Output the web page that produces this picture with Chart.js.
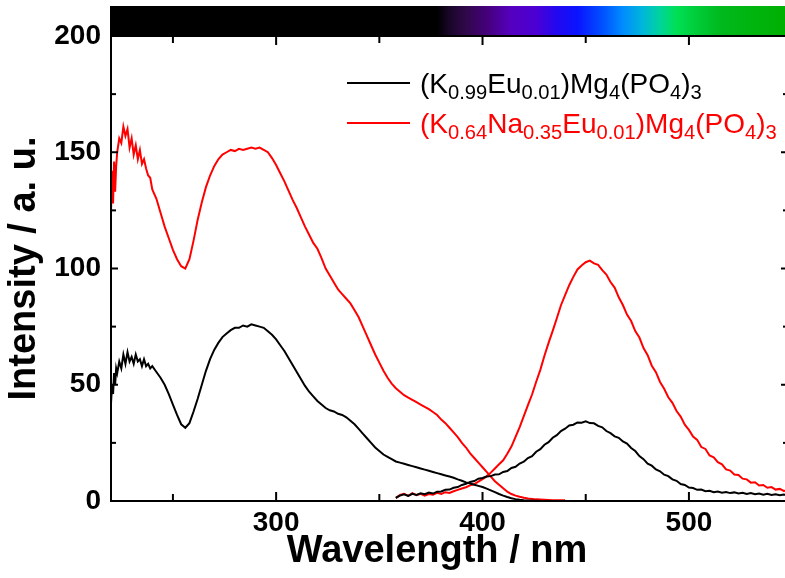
<!DOCTYPE html>
<html>
<head>
<meta charset="utf-8">
<script src="https://cdn.jsdelivr.net/npm/chart.js@4.4.0/dist/chart.umd.min.js"></script>
<style>
  html, body { margin: 0; padding: 0; overflow: hidden; background: #fff; }
  #wrap { width: 800px; height: 578px; }
</style>
</head>
<body>
<div id="wrap"><canvas id="c" width="800" height="578"></canvas></div>
<script>
// Excitation spectra (nm)
const excWavelength = [220,220.5,221,221.5,222,222.5,223,224,225,226,227,228,229,230,231,232,233,234,235,236,237,238,239,240,
  242,244,246,248,250,252,254,256,258,260,262,264,266,268,270,272,274,276,278,280,282,284,286,288,290,292,294,296,298,300,
  302,304,306,308,310,312,314,316,318,320,322,324,326,328,330,332,334,336,338,340,342,344,346,348,350,352,354,356,358,360,
  362,364,366,368,370,372,374,376,378,380,382,384,386,388,390,392,394,396,398,400,402,404,406,408,410,412,414,416,418,420,
  422,424,426,428,430,432,434,436,438,440];

const excK = [42,50,46,55,50,57,55,60,57,63,59,64,60,62,59,63,60,61,58,61,58,59,57,58,
  55.5,53,50,46,41.5,37,33,31.5,33.5,38.5,44,50,56,61,65,68,70.5,72,73.5,74.5,74.5,75.5,75,76,75.5,75,74.5,73,71.5,69.5,
  67,64.5,61.5,58.5,55.5,52.5,49.5,47,45,43,41.5,40,39,38.5,37.5,37,36,34.5,33,31,29,27,25,23,21.5,20,19,18,17,16.5,
  16,15.5,15,14.5,14,13.5,13,12.5,12,11.5,11,10.5,10,9.3,8.7,8,7.5,7,6.5,6,5.3,4.6,3.8,3,2.3,1.7,1.2,0.8,0.5,0.3,
  0.2,0.1,0.1,0,0,0,0,0,0,0];

const excKNa = [124,142,128,146,133,144,150,156,154,161,157,160,152,156,149,153,147,151,145,147,143,140,139,134,
  130,124,118,113,108,104,101,100,104,112,121,128.5,135,140,144,147,149,150,151,150.5,151.5,151,151.5,152,151.5,152,151,150,147.5,144.5,
  141,137.5,133.5,129.5,126,122,118,114.5,111,108.5,104.5,100,97,94,91,89,87,85,82,79,75,71,67,63,59.5,56,53,50.5,48.5,47,
  45.5,44.5,43.5,42.5,41.5,40.5,39.5,38.3,37,35,33.5,31.5,29.5,27.5,25,23,20.5,18.5,16.5,14.5,12.5,10.5,8.5,7,5.5,4,3,2.3,1.8,1.4,
  1.1,0.9,0.7,0.6,0.5,0.4,0.3,0.3,0.3,0.3];

// Emission spectra (nm)
const emWavelength = [358,360,362,364,366,368,370,372,374,376,378,380,382,384,386,388,390,392,394,396,398,400,
  402,404,406,408,410,412,414,416,418,420,422,424,426,428,430,432,434,436,438,440,442,444,446,448,450,
  452,454,456,458,460,462,464,466,468,470,472,474,476,478,480,482,484,486,488,490,492,494,496,498,500,
  502,504,506,508,510,512,514,516,518,520,522,524,526,528,530,532,534,536,538,540,542,544,546,548,550];

const emK = [1.4,2.3,2.9,2.2,3.1,2.6,3.3,2.9,3.6,3.2,4,4.1,4.8,4.9,5.7,6,6.9,7.4,8.2,8.6,9.6,9.9,
  10.5,10.7,11.4,11.5,12.5,12.9,14.2,14.7,16.1,16.9,18.5,19.3,21.2,22.3,24.2,25.3,27.2,28.3,30.1,31.1,32.5,32.8,33.8,33.7,34.3,
  33.5,33.4,32.3,31.7,30.1,29.2,27.8,27.2,25.6,24.7,22.8,21.5,19.3,18,16.1,15.2,13.6,12.8,11.3,10.7,9.3,8.7,7.3,6.9,5.8,
  5.6,4.8,4.9,4.2,4.4,3.8,4.1,3.6,3.9,3.4,3.7,3.2,3.5,3,3.4,2.9,3.2,2.7,3.1,2.6,2.9,2.5,2.8,2.4,2.6];

const emKNa = [1.2,2.6,3.1,2.2,3.4,2.5,3.1,2.3,3,2.7,3.5,3,3.8,3.5,4.2,4.8,5.4,5.9,6.7,7.3,8.3,9.4,
  10.6,12.2,14,15.8,17.5,20.3,23.4,27.6,31.8,36.5,41.2,45.8,51.3,56.4,62.5,68,73.2,78.6,84.2,88.5,92.8,96.4,99.6,101.3,102.7,
  103.4,102.2,101.6,99.3,97.4,94.2,91.8,87.6,84.3,80.2,77.4,73.1,70.3,65.8,62.7,58.2,55.4,51.2,48.3,44.6,42.2,38.7,36.3,32.8,30.6,
  27.7,26.3,23.2,22.4,19.6,18.8,16.7,15.8,13.6,13.1,11.4,11.2,9.6,9.3,7.9,8.1,6.7,6.9,5.7,6,4.9,5.2,4.3,4.6,3.8];

const xLabelValues = [300, 400, 500];
const yLabelValues = [0, 50, 100, 150, 200];

// Legend entries: [text, isSubscript]
const legendK = [['(K',0],['0.99',1],['Eu',0],['0.01',1],[')Mg',0],['4',1],['(PO',0],['4',1],[')',0],['3',1]];
const legendKNa = [['(K',0],['0.64',1],['Na',0],['0.35',1],['Eu',0],['0.01',1],[')Mg',0],['4',1],['(PO',0],['4',1],[')',0],['3',1]];

// Visible-spectrum strip along the top edge: [wavelength, colour]
const spectrumStops = [[220,'#000000'],[378,'#000000'],[384,'#1a0628'],[392,'#30084a'],[402,'#45007a'],[414,'#5500c0'],
  [426,'#4c00d4'],[436,'#2208f0'],[446,'#0a14ff'],[458,'#0050ff'],[468,'#008cff'],[478,'#00b8d8'],[486,'#00d49c'],
  [494,'#00e055'],[504,'#00cc38'],[516,'#00b81c'],[548,'#00b000']];

const X_MIN = 220, X_MAX = 548;

const FONT = "'Liberation Sans', Arial, Helvetica, sans-serif";
Chart.defaults.font.family = FONT;
Chart.defaults.color = '#000';

const toXY = (xs, ys) => xs.map((x, i) => ({ x, y: ys[i] }));
const BLACK = '#000000', RED = '#ff0000';

const line = (ctx, x1, y1, x2, y2) => { ctx.beginPath(); ctx.moveTo(x1, y1); ctx.lineTo(x2, y2); ctx.stroke(); };

function drawRich(ctx, parts, x, baseline, size, color) {
  ctx.fillStyle = color;
  ctx.textBaseline = 'alphabetic';
  ctx.textAlign = 'left';
  for (const [txt, sub] of parts) {
    const s = sub ? size * 0.72 : size;
    ctx.font = `${s}px ${FONT}`;
    ctx.fillText(txt, x, baseline + (sub ? size * 0.22 : 0));
    x += ctx.measureText(txt).width;
  }
}

const framePlugin = {
  id: 'frame',
  afterDraw(chart) {
    const { ctx, chartArea: a, scales: { x, y } } = chart;
    ctx.save();

    // spectrum strip
    const x0 = x.getPixelForValue(X_MIN), x1 = x.getPixelForValue(X_MAX);
    const g = ctx.createLinearGradient(x0, 0, x1, 0);
    for (const [w, c] of spectrumStops) g.addColorStop((w - X_MIN) / (X_MAX - X_MIN), c);
    ctx.fillStyle = g;
    ctx.fillRect(x0 - 1, 6, x1 - x0 + 1, a.top - 6);

    // frame
    ctx.strokeStyle = '#000';
    ctx.lineWidth = 2;
    ctx.strokeRect(a.left, a.top, a.right - a.left, a.bottom - a.top);

    // inward ticks
    for (let v = 250; v <= 500; v += 50) {
      const px = x.getPixelForValue(v);
      const len = v % 100 === 0 ? 9 : 7;
      line(ctx, px, a.bottom, px, a.bottom - len);
      line(ctx, px, a.top, px, a.top + len);
    }
    for (let v = 0; v <= 200; v += 25) {
      const py = y.getPixelForValue(v);
      const len = v % 50 === 0 ? 7 : 5;
      line(ctx, a.left, py, a.left + len, py);
      line(ctx, a.right, py, a.right - len, py);
    }

    // x-axis title
    ctx.fillStyle = '#000';
    ctx.font = `bold 38px ${FONT}`;
    ctx.textAlign = 'center';
    ctx.textBaseline = 'middle';
    ctx.fillText('Wavelength / nm', 437, 552);

    // legend
    ctx.lineWidth = 2;
    ctx.strokeStyle = BLACK;
    line(ctx, 347, 83, 410, 83);
    ctx.strokeStyle = RED;
    line(ctx, 347, 123, 410, 123);
    drawRich(ctx, legendK, 420, 93, 28, BLACK);
    drawRich(ctx, legendKNa, 420, 133, 28, RED);

    ctx.restore();
  }
};

new Chart(document.getElementById('c'), {
  type: 'line',
  data: {
    datasets: [
      { data: toXY(excWavelength, excK), borderColor: BLACK },
      { data: toXY(emWavelength, emK), borderColor: BLACK },
      { data: toXY(excWavelength, excKNa), borderColor: RED },
      { data: toXY(emWavelength, emKNa), borderColor: RED }
    ]
  },
  options: {
    responsive: false,
    animation: false,
    devicePixelRatio: 1,
    layout: { padding: { top: 36, right: 12, left: 0, bottom: 0 } },
    elements: {
      line: { borderWidth: 2, tension: 0 },
      point: { radius: 0 }
    },
    plugins: { legend: { display: false }, tooltip: { enabled: false } },
    scales: {
      x: {
        type: 'linear',
        min: X_MIN,
        max: X_MAX,
        grid: { display: false, drawTicks: false },
        border: { display: false },
        afterFit: s => { s.height = 77; },
        ticks: {
          stepSize: 50,
          autoSkip: false,
          maxRotation: 0,
          padding: 5,
          font: { size: 28, weight: 'bold' },
          callback: v => xLabelValues.includes(v) ? String(v) : ''
        }
      },
      y: {
        min: 0,
        max: 200,
        grid: { display: false, drawTicks: false },
        border: { display: false },
        afterFit: s => { s.width = 111; },
        ticks: {
          stepSize: 50,
          padding: 10,
          font: { size: 28, weight: 'bold' },
          callback: v => yLabelValues.includes(v) ? String(v) : ''
        },
        title: {
          display: true,
          text: 'Intensity / a. u.',
          font: { size: 38, weight: 'bold' },
          padding: { top: 2, bottom: 0 }
        }
      }
    }
  },
  plugins: [framePlugin]
});
</script>
</body>
</html>
